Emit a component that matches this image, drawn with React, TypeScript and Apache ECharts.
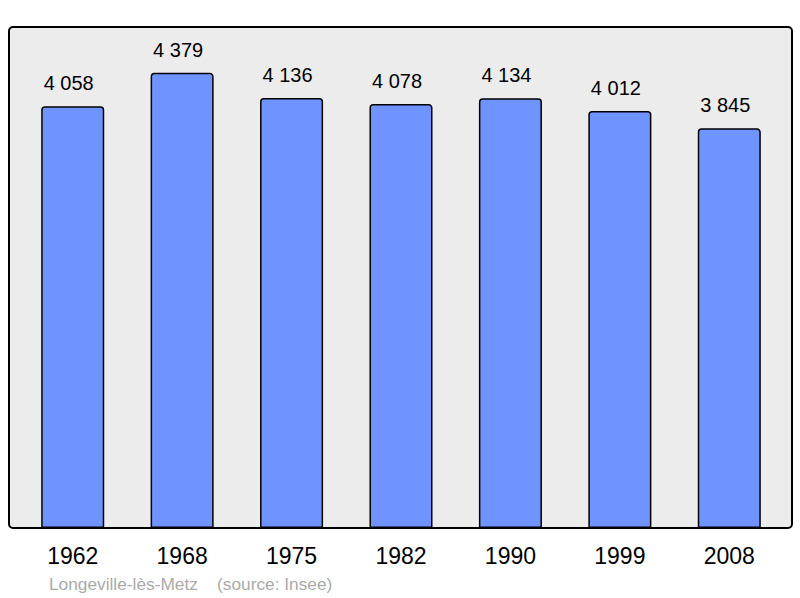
import React, { useEffect, useRef } from "react";
import * as echarts from "echarts";

const years = ["1962", "1968", "1975", "1982", "1990", "1999", "2008"];
const population = [4058, 4379, 4136, 4078, 4134, 4012, 3845];
const footnote = "Longeville-lès-Metz    (source: Insee)";

const fmt = (v: number) => {
  const s = String(v);
  return s.length > 3 ? s.slice(0, s.length - 3) + " " + s.slice(-3) : s;
};

export default function App() {
  const ref = useRef<HTMLDivElement>(null);
  useEffect(() => {
    if (!ref.current) return;
    const chart = echarts.init(ref.current, null, { renderer: "svg" });
    chart.setOption({
      animation: false,
      backgroundColor: "#ffffff",
      textStyle: { fontFamily: "Liberation Sans, Arial, sans-serif" },
      graphic: [
        {
          type: "rect",
          z: -10,
          shape: { x: 9, y: 27, width: 783, height: 501, r: 4 },
          style: { fill: "#ececec", stroke: "#000000", lineWidth: 2 },
        },
        {
          type: "text",
          left: 49,
          top: 575,
          style: {
            text: footnote,
            fill: "#aaaaaa",
            font: "17.3px 'Liberation Sans', Arial, sans-serif",
          },
        },
      ],
      grid: { left: 18, right: 16, top: 27, bottom: 70, containLabel: false },
      xAxis: {
        type: "category",
        data: years,
        axisLine: { show: false },
        axisTick: { show: false },
        axisLabel: {
          color: "#000",
          fontSize: 23,
          margin: 16,
          fontFamily: "Liberation Sans, Arial, sans-serif",
        },
      },
      yAxis: {
        type: "value",
        min: 0,
        max: 4820,
        show: false,
        splitLine: { show: false },
      },
      series: [
        {
          type: "bar",
          data: population,
          barWidth: "57.6%",
          itemStyle: {
            color: "#7094ff",
            borderColor: "#000000",
            borderWidth: 1.5,
            borderRadius: [3, 3, 0, 0],
          },
          label: {
            show: true,
            position: "top",
            distance: 13,
            offset: [-4, 0],
            color: "#000",
            fontSize: 20,
            fontFamily: "Liberation Sans, Arial, sans-serif",
            formatter: (p: any) => fmt(p.value),
          },
        },
      ],
    });
    return () => chart.dispose();
  }, []);
  return (
    <div
      ref={ref}
      style={{ position: "fixed", left: 0, top: 0, width: 800, height: 598 }}
    />
  );
}
